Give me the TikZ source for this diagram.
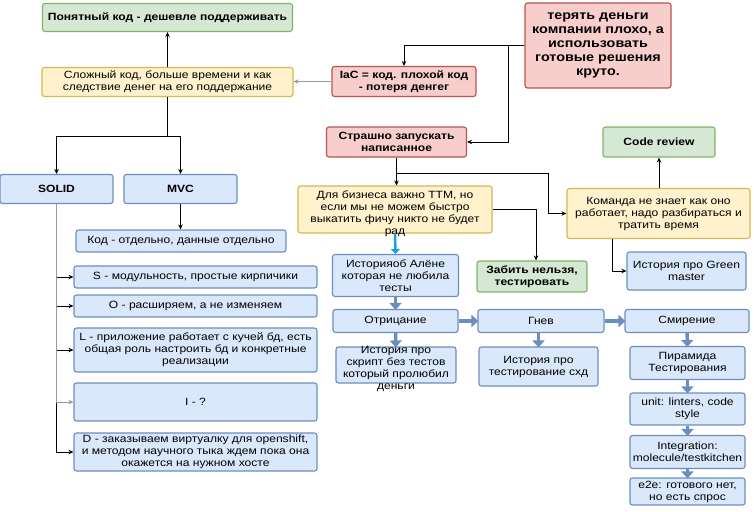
\documentclass[tikz,border=0pt]{standalone}
\usepackage{fontspec}
\setmainfont[FakeStretch=1.15]{Liberation Sans}
\usepackage{tikz}
\usetikzlibrary{arrows.meta}
\definecolor{gfill}{HTML}{D5E8D4}
\definecolor{gline}{HTML}{82B366}
\definecolor{yfill}{HTML}{FFF2CC}
\definecolor{yline}{HTML}{D6B656}
\definecolor{rfill}{HTML}{F8CECC}
\definecolor{rline}{HTML}{B85450}
\definecolor{bfill}{HTML}{DAE8FC}
\definecolor{bline}{HTML}{6C8EBF}
\definecolor{sky}{HTML}{1BA1E2}
\definecolor{greyline}{HTML}{9A9A9A}

\begin{document}
\begin{tikzpicture}[x=1pt,y=-1pt,
  box/.style={draw,rounded corners=2.5pt,line width=1.1pt,align=center,inner sep=1pt,
    font=\fontsize{10.5}{12}\selectfont},
  gbox/.style={box,fill=gfill,draw=gline,font=\fontsize{10.5}{12}\selectfont\bfseries},
  ybox/.style={box,fill=yfill,draw=yline},
  rbox/.style={box,fill=rfill,draw=rline,font=\fontsize{10.5}{12}\selectfont\bfseries},
  bbox/.style={box,fill=bfill,draw=bline},
  conn/.style={-{Stealth[length=5pt,width=4.5pt]},line width=0.8pt},
  gconn/.style={conn,draw=greyline},
  fat/.style={-{Triangle[length=7pt,width=12pt]},line width=3.4pt,draw=bline,shorten >=-1pt}]
\useasboundingbox (0,0) rectangle (754,511);

\node[gbox,minimum width=250,minimum height=28] (cheap) at (167.5,17.5) {Понятный код - дешевле поддерживать};
\node[ybox,minimum width=251,minimum height=29] (complex) at (167.5,82) {Сложный код, больше времени  и как\\следствие денег на его поддержание};
\node[rbox,minimum width=144,minimum height=30] (iac) at (404,81.5) {IaC = код. плохой код\\- потеря денгег};
\node[rbox,minimum width=146,minimum height=85,font=\fontsize{12.5}{14}\selectfont\bfseries] (money) at (598,45.5) {терять деньги\\компании плохо, а\\использовать\\готовые решения\\круто.};
\node[rbox,minimum width=140,minimum height=30] (scary) at (396.5,142) {Страшно запускать\\написанное};
\node[ybox,minimum width=194,minimum height=47] (ttm) at (395,209.5) {\smash{\raisebox{-7pt}{\parbox[c]{190pt}{\centering Для бизнеса важно TTM, но\\если  мы не можем быстро\\выкатить фичу никто не будет\\рад}}}};
\node[gbox,minimum width=112,minimum height=30] (review) at (659,142) {Code review};
\node[ybox,minimum width=183,minimum height=50] (team) at (658.5,213.5) {Команда не знает как оно\\работает, надо разбираться и\\тратить время};
\node[bbox,minimum width=119,minimum height=38] (green) at (686.5,271) {История про Green\\master};
\node[gbox,minimum width=110,minimum height=31] (nofail) at (532,276.5) {Забить нельзя,\\тестировать};
\node[bbox,minimum width=126,minimum height=42] (alena) at (395.5,275.5) {Историяоб Алёне\\которая не любила\\тесты};

\node[bbox,minimum width=113,minimum height=29,font=\fontsize{10.5}{12}\selectfont\bfseries] (solid) at (56.5,189) {SOLID};
\node[bbox,minimum width=113,minimum height=29,font=\fontsize{10.5}{12}\selectfont\bfseries] (mvc) at (180.5,189) {MVC};
\node[bbox,minimum width=210,minimum height=22] (split) at (181,241) {Код - отдельно, данные отдельно};
\node[bbox,minimum width=243,minimum height=22] (s) at (195.5,277) {S - модульность, простые кирпичики};
\node[bbox,minimum width=243,minimum height=22] (o) at (195.5,306) {O - расширяем, а не изменяем};
\node[bbox,minimum width=243,minimum height=44] (l) at (195.5,350) {L - приложение работает с кучей бд, есть\\общая роль настроить бд и конкретные\\реализации};
\node[bbox,minimum width=243,minimum height=38] (i) at (195.5,402) {I - ?};
\node[bbox,minimum width=243,minimum height=38] (d) at (195.5,452) {D - заказываем виртуалку для openshift,\\и методом научного тыка ждем пока она\\окажется на нужном хосте};

\node[bbox,minimum width=125,minimum height=23] (denial) at (395.5,321) {Отрицание};
\node[bbox,minimum width=126,minimum height=23] (anger) at (541,321) {Гнев};
\node[bbox,minimum width=124,minimum height=23] (accept) at (687,321) {Смирение};
\node[bbox,minimum width=120,minimum height=36] (script) at (396,365) {\smash{\raisebox{-7pt}{\parbox[c]{116pt}{\centering История про\\скрипт без тестов\\который пролюбил\\деньги}}}};
\node[bbox,minimum width=119,minimum height=39] (storage) at (538.5,366.5) {История про\\тестирование схд};
\node[bbox,minimum width=115,minimum height=33] (pyramid) at (687.5,363) {Пирамида\\Тестирования};
\node[bbox,minimum width=115,minimum height=32] (unit) at (687.5,409) {unit: linters, code\\style};
\node[bbox,minimum width=115,minimum height=33] (integ) at (687.5,452) {Integration:\\molecule/testkitchen};
\node[bbox,minimum width=115,minimum height=27] (etoe) at (687.5,491.5) {e2e: готового нет,\\но есть спрос};

\draw[conn] (complex) -- (cheap);
\draw[gconn] (iac.west) -- (iac.west -| complex.east);
\coordinate (fork) at (508,46);
\draw[conn] (money.west) -| (iac.north);
\draw[conn] (fork) |- (scary.east);
\draw[conn] (scary.south) -- (scary.south |- ttm.north);
\draw[conn] (scary.south) |- ++(151.5,16) |- (team.west);
\draw[conn] (ttm.east) -| ([xshift=4pt]nofail.north);
\draw[conn] (review.south |- team.north) -- (review.south);
\draw[conn] ([xshift=-46.5pt]team.south) |- (green.west);
\draw[-{Triangle[length=5pt,width=9pt]},line width=2.5pt,draw=sky] (ttm.south) -- (alena.north);

\draw[conn] (complex.south) -- ++(0,39) -| (solid.north);
\draw[conn] (complex.south) ++(0,39) -| (mvc.north);
\draw[conn] (mvc.south) -- (mvc.south |- split.north);
\foreach \n in {s,o,l,d}
  \draw[conn] (solid.south) |- (\n.west);
\draw[gconn] (solid.south) |- (i.west);

\draw[fat] (alena) -- (denial);
\draw[fat] (denial) -- (anger);
\draw[fat] (anger) -- (accept);
\draw[fat] (denial) -- (script);
\draw[fat] (anger.south -| storage.north) -- (storage);
\draw[fat] (accept) -- (pyramid);
\draw[fat] (pyramid) -- (unit);
\draw[fat] (unit) -- (integ);
\draw[fat] (integ) -- (etoe);

\end{tikzpicture}
\end{document}
